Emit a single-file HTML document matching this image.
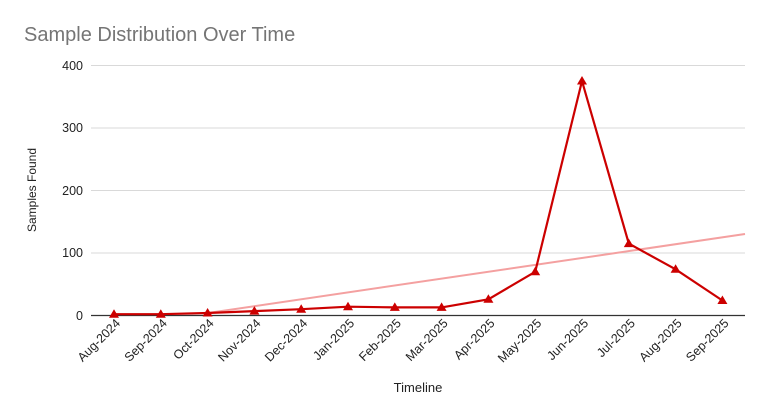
<!DOCTYPE html>
<html><head><style>body{margin:0;background:#fff}svg{display:block}</style></head>
<body>
<svg width="768" height="417" viewBox="0 0 768 417" xmlns="http://www.w3.org/2000/svg" font-family="Liberation Sans, Arial, sans-serif">
<rect width="768" height="417" fill="#fff"/>
<text x="24" y="41" font-size="20" fill="#757575">Sample Distribution Over Time</text>
<g stroke="#d9d9d9" stroke-width="1">
<line x1="91" y1="65.5" x2="745" y2="65.5"/>
<line x1="91" y1="128" x2="745" y2="128"/>
<line x1="91" y1="190.5" x2="745" y2="190.5"/>
<line x1="91" y1="253" x2="745" y2="253"/>
</g>
<line x1="91" y1="315.5" x2="745" y2="315.5" stroke="#333" stroke-width="1.2"/>
<g font-size="12.5" fill="#222" text-anchor="end">
<text x="83" y="70">400</text><text x="83" y="132">300</text><text x="83" y="195">200</text><text x="83" y="257">100</text><text x="83" y="320">0</text>
</g>
<text transform="translate(36,190) rotate(-90)" font-size="12" fill="#222" text-anchor="middle">Samples Found</text>
<text x="418" y="392" font-size="13" fill="#222" text-anchor="middle">Timeline</text>
<line x1="208" y1="313" x2="745" y2="234" stroke="#f4a0a0" stroke-width="2"/>
<polyline fill="none" stroke="#cc0000" stroke-width="2.2" points="114,314.2 160.8,314.2 207.6,313 254.4,311.1 301.2,309.2 348,306.7 394.8,307.4 441.6,307.4 488.4,299.3 535.2,271.8 582,81 628.8,243.6 675.6,269.3 722.4,300.5"/>
<g fill="#cc0000">
<polygon points="114,309.2 109,317.7 119,317.7"/>
<polygon points="160.8,309.2 155.8,317.7 165.8,317.7"/>
<polygon points="207.6,308 202.6,316.5 212.6,316.5"/>
<polygon points="254.4,306.1 249.4,314.6 259.4,314.6"/>
<polygon points="301.2,304.2 296.2,312.7 306.2,312.7"/>
<polygon points="348,301.7 343,310.2 353,310.2"/>
<polygon points="394.8,302.4 389.8,310.9 399.8,310.9"/>
<polygon points="441.6,302.4 436.6,310.9 446.6,310.9"/>
<polygon points="488.4,294.3 483.4,302.8 493.4,302.8"/>
<polygon points="535.2,266.8 530.2,275.3 540.2,275.3"/>
<polygon points="582,76 577,84.5 587,84.5"/>
<polygon points="628.8,238.6 623.8,247.1 633.8,247.1"/>
<polygon points="675.6,264.3 670.6,272.8 680.6,272.8"/>
<polygon points="722.4,295.5 717.4,304 727.4,304"/>
</g>
<g font-size="12.5" fill="#222" text-anchor="end">
<text transform="translate(121,324) rotate(-45)">Aug-2024</text>
<text transform="translate(167.8,324) rotate(-45)">Sep-2024</text>
<text transform="translate(214.6,324) rotate(-45)">Oct-2024</text>
<text transform="translate(261.4,324) rotate(-45)">Nov-2024</text>
<text transform="translate(308.2,324) rotate(-45)">Dec-2024</text>
<text transform="translate(355,324) rotate(-45)">Jan-2025</text>
<text transform="translate(401.8,324) rotate(-45)">Feb-2025</text>
<text transform="translate(448.6,324) rotate(-45)">Mar-2025</text>
<text transform="translate(495.4,324) rotate(-45)">Apr-2025</text>
<text transform="translate(542.2,324) rotate(-45)">May-2025</text>
<text transform="translate(589,324) rotate(-45)">Jun-2025</text>
<text transform="translate(635.8,324) rotate(-45)">Jul-2025</text>
<text transform="translate(682.6,324) rotate(-45)">Aug-2025</text>
<text transform="translate(729.4,324) rotate(-45)">Sep-2025</text>
</g>
</svg>
</body></html>
